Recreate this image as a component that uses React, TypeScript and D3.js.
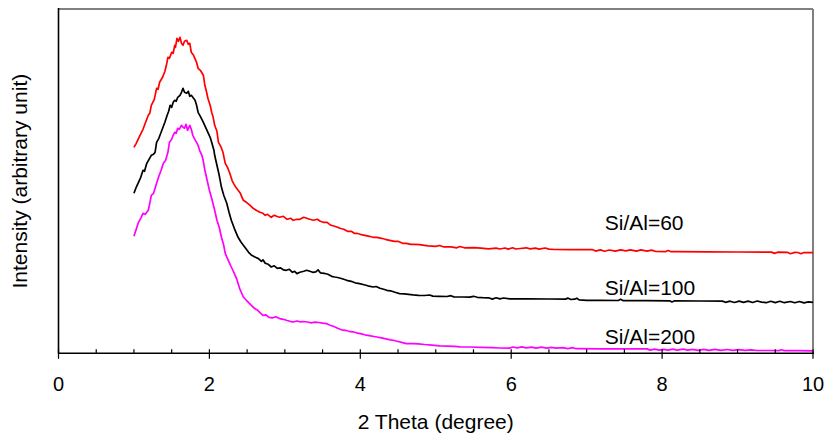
import React from "react";
import * as d3 from "d3";

const W = 825;
const H = 434;

// 2-theta ticks
const majorTicks = [0, 2, 4, 6, 8, 10];
const minorTicks = [0.5, 1, 1.5, 2.5, 3, 3.5, 4.5, 5, 5.5, 6.5, 7, 7.5, 8.5, 9, 9.5];

const seriesNames = ["Si/Al=60", "Si/Al=100", "Si/Al=200"];
const seriesColors = ["#ff0000", "#000000", "#ff00ff"];

// [2theta (deg), intensity (a.u.)]
const siAl60: [number, number][] = [
  [1.0, 206], [1.03, 210], [1.08, 218], [1.12, 224], [1.16, 232], [1.19, 238], [1.21, 240], [1.23, 248],
  [1.27, 254], [1.30, 265], [1.32, 264], [1.34, 271], [1.38, 276], [1.41, 282], [1.43, 288], [1.45, 296],
  [1.47, 295], [1.50, 301], [1.52, 300], [1.54, 308], [1.55, 306], [1.57, 315], [1.59, 312], [1.61, 316],
  [1.63, 310], [1.65, 308], [1.67, 312], [1.70, 313], [1.72, 309], [1.74, 310], [1.76, 301], [1.79, 298],
  [1.83, 291], [1.85, 285], [1.88, 283], [1.92, 278], [1.94, 268], [1.96, 262], [1.98, 255], [2.01, 248],
  [2.03, 241], [2.05, 236], [2.07, 228], [2.10, 222], [2.12, 211], [2.15, 207], [2.18, 201], [2.21, 190],
  [2.24, 186], [2.27, 180], [2.30, 173], [2.32, 170], [2.35, 166], [2.38, 163], [2.41, 160], [2.45, 153],
  [2.49, 151], [2.54, 148], [2.58, 145], [2.62, 143], [2.67, 141], [2.71, 140], [2.74, 138], [2.77, 139],
  [2.82, 136], [2.86, 138], [2.89, 137], [2.93, 136], [2.98, 137], [3.03, 134], [3.08, 135], [3.11, 133],
  [3.16, 134], [3.2, 134], [3.25, 136], [3.29, 135], [3.33, 134], [3.38, 133], [3.43, 134], [3.47, 132],
  [3.51, 131], [3.56, 131], [3.61, 128], [3.66, 127], [3.70, 126], [3.73, 125], [3.78, 124], [3.83, 122],
  [3.88, 122], [3.92, 120], [3.95, 120], [4.0, 119], [4.06, 118], [4.12, 117], [4.17, 116], [4.22, 116],
  [4.28, 115], [4.33, 114], [4.39, 113], [4.45, 112], [4.5, 112], [4.56, 110], [4.61, 110], [4.67, 109],
  [4.72, 109], [4.79, 108.7], [4.85, 108], [4.9, 107.5], [5.0, 107], [5.05, 107.8], [5.1, 106.5],
  [5.2, 106.5], [5.28, 105.5], [5.32, 106.8], [5.38, 105.5], [5.5, 105.7], [5.6, 105.2], [5.7, 104.5],
  [5.8, 105.2], [5.85, 104.3], [5.92, 105.3], [5.96, 104.2], [6.02, 105.5], [6.06, 104.3], [6.12, 104.8],
  [6.2, 105.5], [6.25, 104.4], [6.32, 105.2], [6.37, 104.2], [6.45, 105.3], [6.5, 104.2], [6.57, 103.8],
  [6.8, 103.7], [7.08, 103.6], [7.12, 102.2], [7.18, 103.4], [7.24, 102.0], [7.3, 103.3], [7.38, 102.1],
  [7.45, 103.4], [7.52, 102.4], [7.58, 103.5], [7.66, 102.2], [7.72, 103.4], [7.8, 102.2], [7.86, 103.2],
  [7.92, 101.8], [8.05, 101.7], [8.08, 102.8], [8.12, 101.6], [8.2, 101.6], [8.6, 101.4], [9.0, 101.3],
  [9.45, 101.2], [9.49, 99.9], [9.53, 101.1], [9.66, 101.0], [9.7, 99.6], [9.76, 100.9], [9.8, 100.8],
  [9.84, 99.6], [9.88, 100.8], [10.0, 100.7],
];

const siAl100: [number, number][] = [
  [1.0, 160], [1.03, 166], [1.06, 171], [1.09, 176], [1.12, 183], [1.14, 182], [1.17, 190], [1.2, 194],
  [1.23, 198], [1.26, 199], [1.28, 201], [1.30, 211], [1.33, 215], [1.36, 221], [1.39, 227], [1.41, 231],
  [1.44, 238], [1.46, 242], [1.48, 248], [1.50, 246], [1.52, 251], [1.54, 253], [1.56, 252], [1.58, 256],
  [1.61, 258], [1.63, 261], [1.65, 265], [1.67, 261], [1.70, 260], [1.72, 262], [1.74, 257], [1.76, 258],
  [1.79, 255], [1.81, 253], [1.83, 248], [1.85, 241], [1.88, 237], [1.92, 231], [1.95, 226], [1.98, 221],
  [2.01, 216], [2.03, 211], [2.06, 203], [2.07, 198], [2.10, 188], [2.13, 178], [2.16, 166], [2.19, 158],
  [2.23, 150], [2.26, 141], [2.29, 133], [2.33, 125], [2.38, 116], [2.42, 111], [2.47, 106], [2.52, 101],
  [2.56, 98], [2.61, 96], [2.65, 94.7], [2.69, 92], [2.71, 93.5], [2.74, 90], [2.78, 89], [2.82, 86.3],
  [2.86, 87.5], [2.9, 85], [2.94, 85.5], [2.98, 83.5], [3.02, 83], [3.06, 84], [3.1, 81], [3.13, 82],
  [3.16, 79.7], [3.2, 81], [3.25, 82], [3.29, 83], [3.33, 82], [3.37, 81], [3.41, 81.5], [3.44, 83.5],
  [3.47, 80.5], [3.52, 80], [3.57, 79], [3.62, 77], [3.66, 76.3], [3.7, 75.8], [3.76, 74.5], [3.82, 73],
  [3.88, 72], [3.93, 70.5], [3.99, 69.7], [4.05, 68.5], [4.1, 67.5], [4.17, 66.3], [4.21, 66.8], [4.26, 65],
  [4.31, 64], [4.35, 63], [4.4, 62.5], [4.46, 61], [4.52, 59.7], [4.58, 59.5], [4.64, 59], [4.7, 58.4],
  [4.77, 58], [4.85, 57.8], [4.92, 58.3], [4.96, 57.2], [5.05, 57], [5.15, 56.8], [5.2, 57.6], [5.24, 56.4],
  [5.35, 56.3], [5.45, 56.2], [5.5, 57], [5.55, 56], [5.62, 55.6], [5.7, 55.5], [5.75, 54.2], [5.8, 55.5],
  [5.85, 54.4], [5.9, 55.3], [5.98, 54.5], [6.2, 54.5], [6.5, 54.3], [6.72, 54.2], [6.75, 55.2], [6.79, 53.8],
  [6.84, 54.1], [6.87, 55.1], [6.9, 53.4], [7.0, 53], [7.2, 52.9], [7.42, 52.8], [7.45, 54], [7.48, 52.7],
  [7.8, 52.6], [8.1, 52.5], [8.13, 51.3], [8.16, 52.4], [8.5, 52.3], [8.8, 52.2], [8.84, 51], [8.9, 52.1],
  [8.96, 50.8], [9.02, 52.2], [9.08, 50.9], [9.14, 52.2], [9.2, 50.8], [9.26, 52.3], [9.32, 51.2],
  [9.38, 50.6], [9.44, 52], [9.5, 50.7], [9.56, 52], [9.62, 50.6], [9.7, 51.8], [9.76, 50.5], [9.82, 51.8],
  [9.88, 50.4], [9.94, 51.5], [10.0, 51],
];

const siAl200: [number, number][] = [
  [1.0, 117], [1.03, 124], [1.06, 131], [1.09, 135], [1.12, 140], [1.15, 139], [1.19, 143], [1.21, 150],
  [1.23, 158], [1.26, 160], [1.28, 165], [1.30, 170], [1.33, 177], [1.36, 183], [1.39, 190], [1.42, 193],
  [1.45, 201], [1.47, 211], [1.50, 214], [1.52, 218], [1.54, 221], [1.56, 220], [1.58, 225], [1.60, 224],
  [1.63, 228], [1.65, 226], [1.67, 225], [1.69, 229], [1.71, 223], [1.74, 228], [1.76, 224], [1.78, 218],
  [1.80, 215], [1.83, 211], [1.85, 208], [1.87, 203], [1.90, 198], [1.92, 192], [1.94, 183], [1.97, 173],
  [2.0, 163], [2.03, 155], [2.07, 143], [2.10, 133], [2.13, 126], [2.16, 116], [2.19, 108], [2.21, 100],
  [2.25, 93], [2.29, 86.3], [2.33, 80], [2.36, 74.7], [2.40, 65], [2.45, 56.3], [2.49, 53], [2.53, 50],
  [2.57, 47], [2.60, 44.7], [2.64, 43], [2.68, 40], [2.71, 38], [2.75, 38.5], [2.79, 36], [2.84, 35.5],
  [2.88, 36.5], [2.93, 34.7], [2.98, 34], [3.03, 32.8], [3.07, 32], [3.11, 31.3], [3.16, 32.3], [3.2, 31.5],
  [3.25, 31.8], [3.3, 31.3], [3.35, 30.5], [3.4, 31.2], [3.45, 30.8], [3.5, 30.2], [3.55, 29.7], [3.6, 28],
  [3.65, 26.8], [3.7, 25], [3.75, 23.5], [3.8, 23], [3.85, 22], [3.9, 21.5], [3.95, 20.5], [4.0, 19.7],
  [4.06, 18.5], [4.12, 17.6], [4.18, 16.8], [4.22, 16.3], [4.28, 15.5], [4.34, 14.5], [4.4, 13.5],
  [4.45, 12.8], [4.5, 11.8], [4.56, 10.7], [4.61, 9.7], [4.7, 9.7], [4.77, 9.5], [4.85, 8.8], [4.95, 8.2],
  [5.05, 7.5], [5.15, 7.2], [5.25, 7], [5.32, 6.4], [5.45, 6.3], [5.6, 6], [5.75, 5.6], [5.85, 5.3],
  [5.98, 5.2], [6.02, 6.3], [6.08, 5.5], [6.14, 6.4], [6.2, 5.4], [6.27, 6.2], [6.33, 5.2], [6.4, 6.1],
  [6.47, 5.2], [6.53, 6], [6.6, 5.1], [6.68, 5.6], [6.75, 4.7], [6.82, 5.6], [6.86, 4.6], [7.2, 4.5],
  [7.5, 4.5], [7.8, 4.4], [7.84, 3.2], [7.9, 4.2], [7.96, 3.1], [8.02, 3.9], [8.08, 3.1], [8.14, 4.1],
  [8.2, 3.2], [8.28, 4.1], [8.34, 3.1], [8.4, 4], [8.48, 3], [8.55, 3.9], [8.62, 3], [8.7, 3.9],
  [8.78, 3], [8.86, 3.8], [8.94, 2.9], [9.02, 3.6], [9.1, 2.9], [9.18, 3.5], [9.26, 2.8], [9.4, 2.8],
  [9.55, 2.7], [9.58, 3.5], [9.62, 2.7], [9.8, 2.6], [10.0, 2.5],
];

const allSeries = [siAl60, siAl100, siAl200];

const FONT = "'Liberation Sans', Arial, Helvetica, sans-serif";

export default function App() {
  const left = 58.5;
  const right = 813;
  const top = 9;
  const bottom = 353.3;

  const x = d3.scaleLinear().domain([0, 10]).range([left, right]);
  const y = d3.scaleLinear().domain([0, 344.3]).range([bottom, top]);

  const line = d3
    .line<[number, number]>()
    .x((d) => x(d[0]))
    .y((d) => y(d[1]));

  // label positions: (x in data units, intensity value of baseline)
  const labelX = 7.24;
  const labelBaselines = [123, 58, 9];

  return (
    <svg width={W} height={H} style={{ display: "block", position: "absolute", left: 0, top: 0, background: "#fff" }}>
      <rect x={0} y={0} width={W} height={H} fill="#fff" />
      {/* frame */}
      <line x1={left} x2={right} y1={top} y2={top} stroke="#808080" strokeWidth={2} />
      <line x1={right} x2={right} y1={top} y2={bottom} stroke="#808080" strokeWidth={2} />

      {/* series */}
      {allSeries.map((s, i) => (
        <path
          key={i}
          d={line(s) || ""}
          fill="none"
          stroke={seriesColors[i]}
          strokeWidth={1.7}
          strokeLinejoin="round"
        />
      ))}

      {/* axes */}
      <line x1={left} x2={left} y1={top - 1} y2={bottom} stroke="#000" strokeWidth={1.6} />
      <line x1={left} x2={right + 1} y1={bottom} y2={bottom} stroke="#000" strokeWidth={1.6} />
      {majorTicks.map((t) => (
        <line key={"M" + t} x1={x(t)} x2={x(t)} y1={bottom - 4} y2={bottom + 5.5} stroke="#000" strokeWidth={1.2} />
      ))}
      {minorTicks.map((t) => (
        <line key={"m" + t} x1={x(t)} x2={x(t)} y1={bottom - 4} y2={bottom} stroke="#000" strokeWidth={1.2} />
      ))}
      {majorTicks.map((t) => (
        <text key={"L" + t} x={x(t)} y={391} textAnchor="middle" fontFamily={FONT} fontSize={20} fill="#000">
          {t}
        </text>
      ))}

      <text x={(left + right) / 2} y={429} textAnchor="middle" fontFamily={FONT} fontSize={21} fill="#000">
        2 Theta (degree)
      </text>
      <text
        transform={`translate(27, ${(top + bottom) / 2}) rotate(-90)`}
        textAnchor="middle"
        fontFamily={FONT}
        fontSize={21}
        fill="#000"
      >
        Intensity (arbitrary unit)
      </text>

      {seriesNames.map((n, i) => (
        <text key={n} x={x(labelX)} y={y(labelBaselines[i])} fontFamily={FONT} fontSize={21} fill="#000">
          {n}
        </text>
      ))}
    </svg>
  );
}
